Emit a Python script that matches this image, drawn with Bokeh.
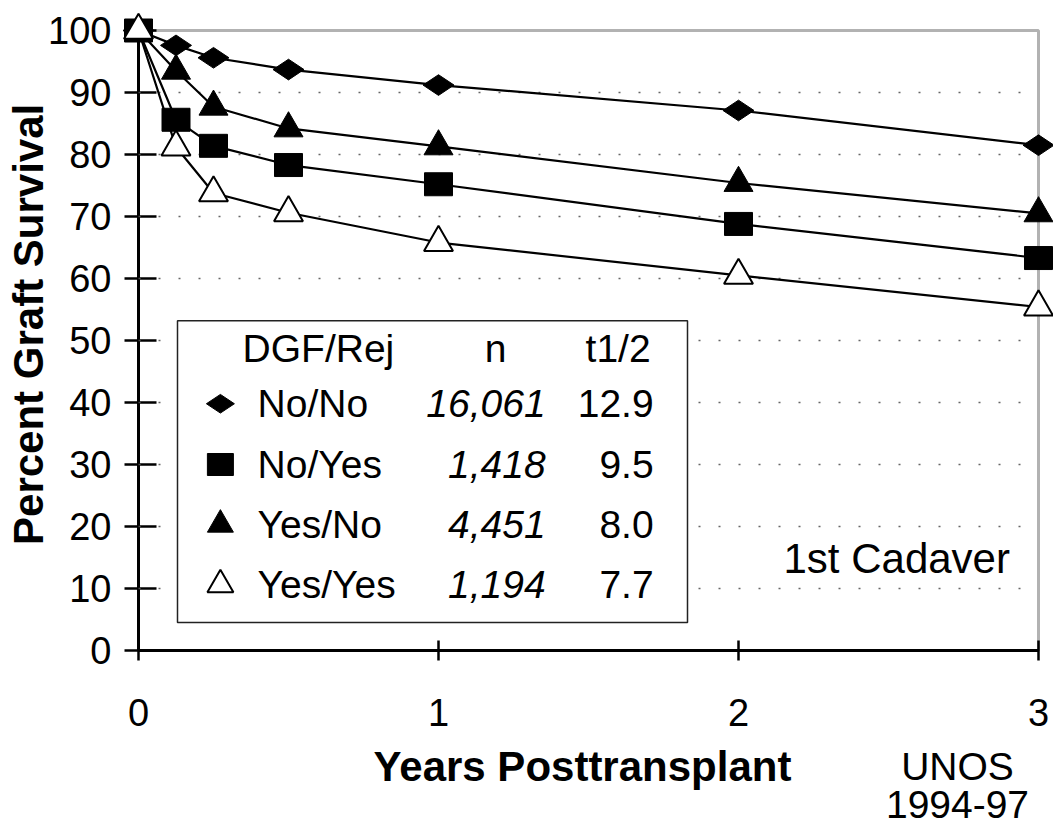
import math
from bokeh.plotting import figure
from bokeh.models import Range1d, FixedTicker, Label, BoxAnnotation
from bokeh.core.properties import value
from bokeh.embed import file_html
from bokeh.resources import INLINE

# ---------------- data ----------------
years = [0, 0.125, 0.25, 0.5, 1, 2, 3]
no_no = [100, 97.6, 95.6, 93.7, 91.2, 87.1, 81.5]
no_yes = [100, 85.6, 81.4, 78.3, 75.2, 68.8, 63.3]
yes_no = [100, 93.5, 87.7, 84.2, 81.3, 75.4, 70.5]
yes_yes = [100, 81.2, 73.8, 70.6, 65.8, 60.5, 55.4]

groups = ["No/No", "No/Yes", "Yes/No", "Yes/Yes"]
n_values = ["16,061", "1,418", "4,451", "1,194"]
half_lives = ["12.9", "9.5", "8.0", "7.7"]
legend_headers = ["DGF/Rej", "n", "t1/2"]

x_ticks = [0, 1, 2, 3]
y_ticks = list(range(0, 101, 10))

x_title = "Years Posttransplant"
y_title = "Percent Graft Survival"
cohort_note = "1st Cadaver"
source_note = ["UNOS", "1994-97"]

FONT = "Liberation Sans"

# ---------------- figure ----------------
# The frame fills the canvas; the axes sit at fixed locations (x=0, y=0)
# so that all notes outside the data area stay visible.
W, H = 1053, 828
X0_PX, PX_PER_YEAR = 138, 300.0
Y0_PX, PX_PER_PCT = 650, 6.2
x_range = Range1d(-X0_PX / PX_PER_YEAR, (W - X0_PX) / PX_PER_YEAR)
y_range = Range1d(-(H - Y0_PX) / PX_PER_PCT, Y0_PX / PX_PER_PCT)

p = figure(width=W, height=H, output_backend="svg", toolbar_location=None,
           x_range=x_range, y_range=y_range, min_border=0)
p.background_fill_color = "white"
p.border_fill_color = "white"
p.outline_line_color = None

for ax in (p.xaxis[0], p.yaxis[0]):
    ax.axis_line_width = 3
    ax.axis_line_color = "black"
    ax.major_tick_line_width = 2.5
    ax.major_tick_line_color = "black"
    ax.minor_tick_line_color = None
    ax.major_label_text_font = FONT
    ax.major_label_text_font_size = "38px"
    ax.major_label_text_color = "black"
    ax.fixed_location = 0
    ax.level = "underlay"

p.xaxis.bounds = (0, 3)
p.yaxis.bounds = (0, 100)
p.xaxis.ticker = FixedTicker(ticks=x_ticks)
p.yaxis.ticker = FixedTicker(ticks=y_ticks)
p.xaxis.major_tick_in = 10
p.xaxis.major_tick_out = 10
p.xaxis.major_label_standoff = 38
p.yaxis.major_tick_in = 18
p.yaxis.major_tick_out = 14
p.yaxis.major_label_standoff = 13

# grid: sparse dotted horizontal lines inside the data area
p.xgrid.grid_line_color = None
p.ygrid.ticker = FixedTicker(ticks=[t for t in y_ticks if 0 < t < 100])
p.ygrid.grid_line_color = "#666666"
p.ygrid.grid_line_width = 1.3
p.ygrid.grid_line_dash = "2 18"
p.ygrid.cross_bounds = (0, 3)

# frame border around the data area
p.add_layout(BoxAnnotation(left=0, right=3, bottom=0, top=100,
                           fill_alpha=0, line_color="black", line_width=3,
                           level="underlay"))

# axis titles
p.add_layout(Label(x=-0.367, y=52.6, text=y_title, angle=math.pi / 2,
                   text_align="center", text_baseline="middle",
                   text_font=FONT, text_font_style="bold",
                   text_font_size="42px", text_color="black"))
p.add_layout(Label(x=1.48, y=-18.7, text=x_title, text_align="center",
                   text_baseline="middle", text_font=FONT,
                   text_font_style="bold", text_font_size="42px",
                   text_color="black"))

# ---------------- series ----------------
for vals in (no_no, no_yes, yes_no, yes_yes):
    p.line(years, vals, line_color="black", line_width=2.2)

p.scatter(years, no_no, marker="diamond", angle=math.pi / 2, size=31,
          fill_color="black", line_color="black")
p.scatter(years, yes_no, marker="triangle", size=29,
          fill_color="black", line_color="black")
p.rect(years, no_yes, width=28, height=23, width_units="screen",
       height_units="screen", fill_color="black", line_color="black")
p.scatter(years, yes_yes, marker="triangle", size=29,
          fill_color="white", line_color="black", line_width=2)

# ---------------- legend table ----------------
box_l, box_r, box_t, box_b = 0.13, 1.83, 53.2, 4.5
p.quad(left=[box_l], right=[box_r], top=[box_t], bottom=[box_b],
       fill_color="white", line_color="#222222", line_width=1.5)

fs = value("39px")
fnt = value(FONT)
header_y = 48.7
p.text(x=[0.347], y=[header_y], text=[legend_headers[0]], text_font=fnt,
       text_font_size=fs, text_align="left", text_baseline="middle",
       text_color="black")
p.text(x=[1.19], y=[header_y], text=[legend_headers[1]], text_font=fnt,
       text_font_size=fs, text_align="center", text_baseline="middle",
       text_color="black")
p.text(x=[1.707], y=[header_y], text=[legend_headers[2]], text_font=fnt,
       text_font_size=fs, text_align="right", text_baseline="middle",
       text_color="black")

row_mid = [39.8, 30.0, 20.3, 10.6]
mk_x = 0.273
p.text(x=[0.397] * 4, y=row_mid, text=groups, text_font=fnt, text_font_size=fs,
       text_align="left", text_baseline="middle", text_color="black")
p.text(x=[1.357] * 4, y=row_mid, text=n_values, text_font=fnt, text_font_size=fs,
       text_font_style="italic", text_align="right", text_baseline="middle",
       text_color="black")
p.text(x=[1.717] * 4, y=row_mid, text=half_lives, text_font=fnt, text_font_size=fs,
       text_align="right", text_baseline="middle", text_color="black")

p.scatter([mk_x], [row_mid[0]], marker="diamond", angle=math.pi / 2, size=28,
          fill_color="black", line_color="black")
p.rect([mk_x], [row_mid[1]], width=26, height=22, width_units="screen",
       height_units="screen", fill_color="black", line_color="black")
p.scatter([mk_x], [row_mid[2]], marker="triangle", size=26,
          fill_color="black", line_color="black")
p.scatter([mk_x], [row_mid[3]], marker="triangle", size=26,
          fill_color="white", line_color="black", line_width=2)

# ---------------- notes ----------------
p.text(x=[2.15], y=[14.8], text=[cohort_note], text_font=fnt,
       text_font_size=value("42px"), text_align="left",
       text_baseline="middle", text_color="black")
p.text(x=[2.73, 2.73], y=[-18.7, -24.9], text=source_note, text_font=fnt,
       text_font_size=value("39px"), text_align="center",
       text_baseline="middle", text_color="black")

open("out.html", "w").write(file_html(p, INLINE))
